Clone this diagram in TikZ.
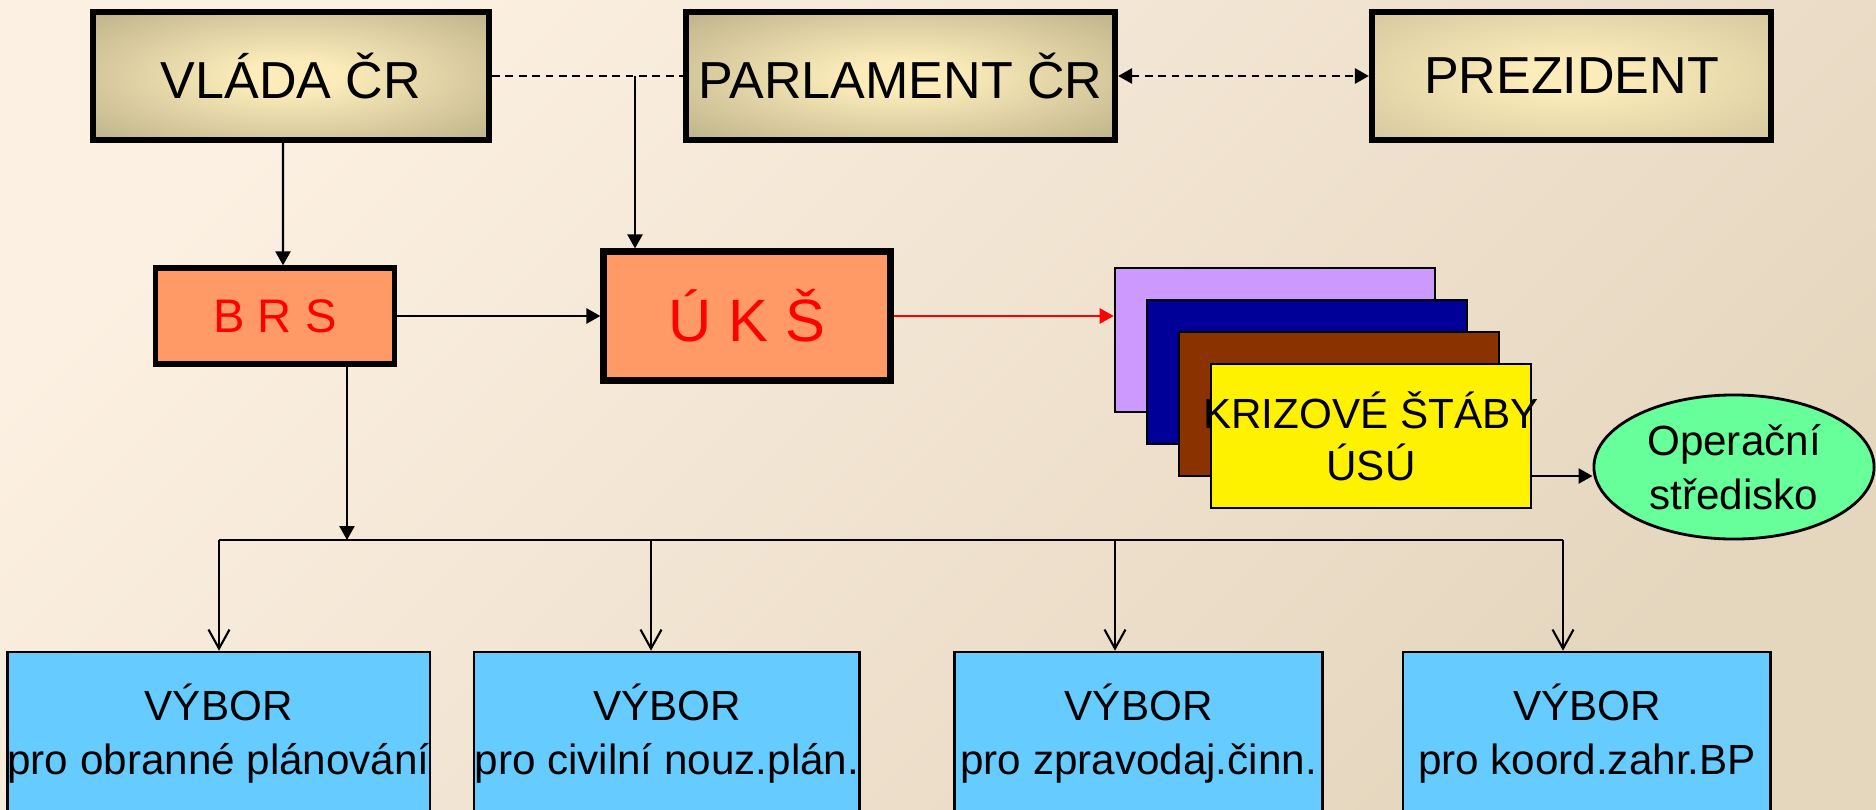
\documentclass[tikz,border=0pt]{standalone}
\usepackage{fontspec}
\setmainfont{Liberation Sans}
\usetikzlibrary{positioning,
				arrows.meta,
				shapes.geometric}
\definecolor{bgtop}{RGB}{252,240,226}
\definecolor{bgbottom}{RGB}{229,214,190}
\definecolor{glowin}{RGB}{252,236,186}
\definecolor{glowout}{RGB}{168,158,122}
\definecolor{glowoutlight}{RGB}{200,188,148}
\definecolor{orgfill}{RGB}{255,153,102}
\definecolor{stpurple}{RGB}{204,153,255}
\definecolor{stnavy}{RGB}{0,0,153}
\definecolor{stbrown}{RGB}{139,51,0}
\definecolor{opgreen}{RGB}{102,255,153}
\definecolor{vyborblue}{RGB}{102,204,255}
\pgfdeclareradialshading{topglow}{\pgfpoint{0bp}{0bp}}{color(0bp)=(glowin); color(6bp)=(glowin); color(46bp)=(glowout); color(80bp)=(glowout)}
\pgfdeclareradialshading{topglowlight}{\pgfpoint{0bp}{0bp}}{color(0bp)=(glowin); color(6bp)=(glowin); color(46bp)=(glowoutlight); color(80bp)=(glowoutlight)}

\begin{document}
\begin{tikzpicture}[x=0.01cm, y=-0.01cm,
		topbox/.style={draw, line width=1.7pt, shade, shading=topglow, minimum height=1.28cm, inner sep=2pt, font=\fontsize{14.8}{17}\selectfont},
		orgbox/.style={draw, fill=orgfill, text=red},
		stackbox/.style={draw, line width=0.7pt, minimum width=3.2cm, minimum height=1.44cm},
		twoline/.style={align=center, font=\fontsize{12}{15.2}\selectfont},
		vybor/.style={draw, line width=0.7pt, fill=vyborblue, minimum height=1.63cm, inner sep=0pt, twoline},
		arr/.style={line width=0.7pt, -{Triangle[length=1.4mm, width=1.5mm]}},
		dashline/.style={line width=0.8pt, dash pattern=on 2.2pt off 1.6pt}
	]
	\useasboundingbox (0,0) rectangle (1876,809);
	\shade[top color=bgtop, bottom color=bgbottom, shading angle=45] (0,0) rectangle (1876,809);

	% top row
	\node[topbox, minimum width=3.96cm] (vlada) at (291,76) {VLÁDA ČR};
	\node[topbox, minimum width=4.29cm] (parlament) at (900.5,76) {PARLAMENT ČR};
	\node[topbox, minimum width=3.99cm, shading=topglowlight] (prezident) at (1571.5,76) {PREZIDENT};

	% middle row
	\node[orgbox, line width=1.5pt, minimum width=2.39cm, minimum height=0.96cm, font=\fontsize{13.4}{16}\selectfont] (brs) at (275,316) {B R S};
	\node[orgbox, line width=2pt, minimum width=2.86cm, minimum height=1.28cm, font=\fontsize{17}{20}\selectfont] (uks) at (747,316) {Ú K Š};
	\foreach \c [count=\i from 0] in {stpurple,stnavy,stbrown}
		\node[stackbox, fill=\c] (st\i) at (1275+32*\i, 340+32*\i) {};
	\node[stackbox, fill=yellow] (st3) at (1371,436) {};
	\node[twoline, font=\fontsize{12}{14.8}\selectfont] (krizove) at (st3) {KRIZOVÉ ŠTÁBY\\ÚSÚ};
	\node[ellipse, draw, line width=0.8pt, fill=opgreen, minimum width=2.8cm, minimum height=1.44cm, inner sep=0pt, twoline] (oper) at (1734,467) {Operační\\středisko};

	% committees
	\foreach \x/\w/\txt [count=\i] in {218.6/4.156/pro obranné plánování,666.9/3.852/pro civilní nouz.plán.,1138.6/3.679/pro zpravodaj.činn.,1586.9/3.672/pro koord.zahr.BP}
		\node[vybor, minimum width=\w cm] (v\i) at (\x,733.5) {VÝBOR\\\txt};

	% connectors
	\draw[dashline] (vlada.east) -- (parlament.west);
	\coordinate (split) at (635,76);
	\draw[arr] (split) -- (split |- uks.north);
	\draw[dashline, {Triangle[length=1.4mm, width=1.5mm]}-{Triangle[length=1.4mm, width=1.5mm]}] (parlament.east) -- (prezident.west);
	\draw[arr] ([xshift=-0.08cm]vlada.south) -- ([xshift=0.08cm]brs.north);
	\draw[arr] (brs.east) -- (uks.west);
	\draw[arr, red] (uks.east) -- (uks.east -| st0.west);
	\draw[arr] ([yshift=-0.4cm]st3.east) -- ([yshift=-0.4cm]st3.east -| oper.west);

	\coordinate (hub) at (347,540);
	\foreach \x [count=\i] in {219,651,1115,1563}
		\coordinate (bus\i) at (\x,540);
	\draw[line width=0.7pt] (bus1) -- (bus4);
	\draw[arr] (brs.south -| hub) -- (hub);
	\foreach \i in {1,...,4}
		\draw[line width=0.6pt, -{Straight Barb[length=1.9mm, width=2.1mm]}] (bus\i) -- (bus\i |- v\i.north);
\end{tikzpicture}
\end{document}
